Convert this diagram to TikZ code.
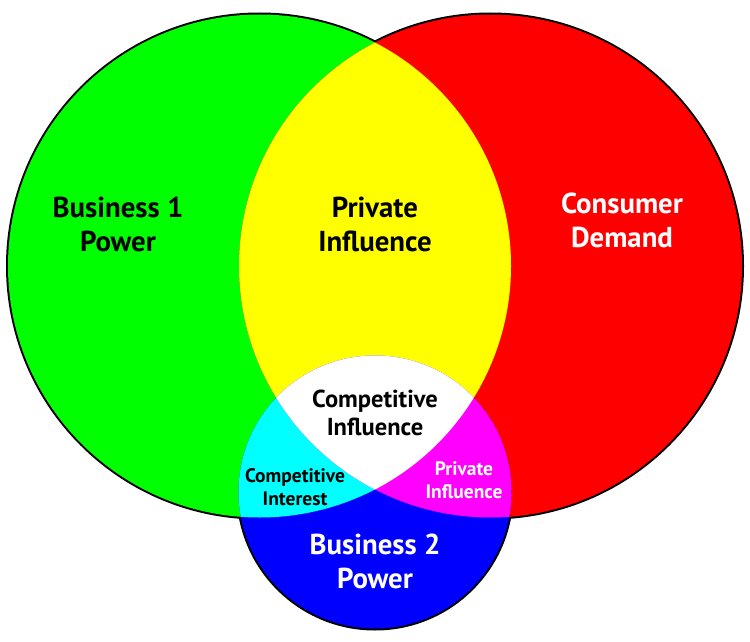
\documentclass[tikz,border=0pt]{standalone}
\usepackage{fontspec}
\setmainfont{PT Sans}
\definecolor{cG}{RGB}{0,255,0}
\definecolor{cR}{RGB}{255,0,0}
\definecolor{cB}{RGB}{0,0,255}
\definecolor{cY}{RGB}{255,255,0}
\definecolor{cC}{RGB}{0,255,255}
\definecolor{cM}{RGB}{255,0,255}
\begin{document}
\begin{tikzpicture}[x=1pt,y=-1pt,
  lbl/.style={align=center, inner sep=0pt},
  big/.style={lbl, font=\fontsize{28.8}{34}\selectfont\bfseries},
  mid/.style={lbl, font=\fontsize{24.5}{28}\selectfont\bfseries},
  small/.style={lbl, font=\fontsize{19.5}{23}\selectfont\bfseries}]
\useasboundingbox (0,0) rectangle (750,642);
\def\G{(259.5,266) circle (251.5)}
\def\R{(490.5,266) circle (251.5)}
\def\B{(375,492) circle (136.5)}
% outlines
\draw[line width=4] \G;
\draw[line width=4] \R;
\draw[line width=4] \B;
% fills
\fill[cG] \G;
\fill[cR] \R;
\fill[cB] \B;
\begin{scope}\clip \G; \fill[cY] \R; \end{scope}
\begin{scope}\clip \G; \fill[cC] \B; \end{scope}
\begin{scope}\clip \R; \fill[cM] \B; \end{scope}
\begin{scope}\clip \G; \clip \R; \fill[white] \B; \end{scope}
% labels
\node[big, text=black] (b1) at (118,224) {Business 1\\Power};
\node[big, text=black] (pi) at (375,224) {Private\\Influence};
\node[big, text=white] (cd) at (622,220) {Consumer\\Demand};
\node[mid, text=black] (ci) at (375,413) {Competitive\\Influence};
\node[small, text=black] (cint) at (295,487) {Competitive\\Interest};
\node[small, text=white] (pi2) at (464,480) {Private\\Influence};
\node[big, text=white] (b2) at (375,561) {Business 2\\Power};
\end{tikzpicture}
\end{document}
